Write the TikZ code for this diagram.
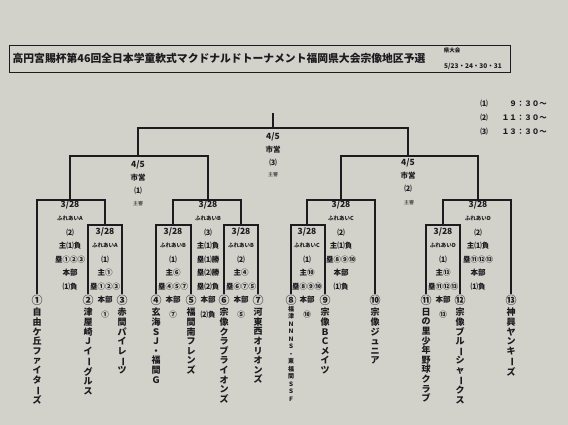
\documentclass[tikz,border=0pt]{standalone}
\usepackage{fontspec}
\setmainfont{Noto Sans CJK JP}
\usetikzlibrary{positioning, calc}

\definecolor{paper}{RGB}{210,210,203}
\definecolor{ink}{RGB}{28,28,32}
\newcommand\chouon{\rotatebox[origin=c]{-90}{ー}}

\begin{document}
\begin{tikzpicture}[x=1pt, y=-1pt, ink,
    bk/.style={line width=1.4pt, line join=miter},
    date/.style={font=\fontsize{8.5}{9}\selectfont\bfseries, inner sep=0pt},
    venue/.style={font=\fontsize{5.5}{6}\selectfont\bfseries, inner sep=0pt},
    info/.style={font=\fontsize{7.5}{8}\selectfont\bfseries, inner sep=0pt},
    ref/.style={font=\fontsize{5}{5}\selectfont, inner sep=0pt},
    num/.style={font=\fontsize{11}{11}\selectfont\bfseries, inner sep=1pt},
    team/.style={font=\fontsize{9}{9.6}\selectfont\bfseries, align=center, anchor=north, inner sep=0pt}]
  \fill[paper] (0,0) rectangle (568,425);
  \useasboundingbox (0,0) rectangle (568,425);

  % title
  \draw[line width=0.8pt] (9,45) rectangle (510,72);
  \node[font=\fontsize{10.8}{11}\selectfont\bfseries, inner sep=0pt] (ttl) at (219,58)
    {高円宮賜杯第46回全日本学童軟式マクドナルドトーナメント福岡県大会宗像地区予選};
  \node[venue] (kt) at (452,50) {県大会};
  \node[font=\fontsize{6.5}{7}\selectfont\bfseries, inner sep=0pt] (days) at (473,66) {5/23・24・30・31};

  % start times
  \node[info] (k1) at (484,104) {⑴};
  \node[info] (k2) at (484,118) {⑵};
  \node[info] (k3) at (484,132) {⑶};
  \node[info, anchor=east] (h1) at (547,104) {９：３０～};
  \node[info, anchor=east] (h2) at (547,118) {１１：３０～};
  \node[info, anchor=east] (h3) at (547,132) {１３：３０～};

  % bracket points
  \coordinate (top) at (273,113);
  \coordinate (fin) at (273,128);
  \coordinate (s1) at (138,156);
  \coordinate (s2) at (408,156);
  \coordinate (jA) at (70,200);
  \coordinate (qA) at (105,225);
  \coordinate (jB) at (208,200);
  \coordinate (qB1) at (173,225);
  \coordinate (qB2) at (241,225);
  \coordinate (jC) at (341,200);
  \coordinate (qC) at (307,225);
  \coordinate (jD) at (478,200);
  \coordinate (qD) at (443,225);

  % team numbers
  \node[num] (t1) at (37,300) {①};
  \node[num] (t2) at (88,300) {②};
  \node[num] (t3) at (122,300) {③};
  \node[num] (t4) at (156,300) {④};
  \node[num] (t5) at (191,300) {⑤};
  \node[num] (t6) at (224,300) {⑥};
  \node[num] (t7) at (258,300) {⑦};
  \node[num] (t8) at (291,300) {⑧};
  \node[num] (t9) at (325,300) {⑨};
  \node[num] (t10) at (375,300) {⑩};
  \node[num] (t11) at (426,300) {⑪};
  \node[num] (t12) at (460,300) {⑫};
  \node[num] (t13) at (511,300) {⑬};

  \draw[bk] (t2) |- (qA) -| (t3);
  \draw[bk] (t1) |- (jA) -| (qA);
  \draw[bk] (t4) |- (qB1) -| (t5);
  \draw[bk] (t6) |- (qB2) -| (t7);
  \draw[bk] (qB1) |- (jB) -| (qB2);
  \draw[bk] (t8) |- (qC) -| (t9);
  \draw[bk] (qC) |- (jC) -| (t10);
  \draw[bk] (t11) |- (qD) -| (t12);
  \draw[bk] (qD) |- (jD) -| (t13);
  \draw[bk] (jA) |- (s1) -| (jB);
  \draw[bk] (jC) |- (s2) -| (jD);
  \draw[bk] (s1) |- (fin) -| (s2);
  \draw[bk] (fin) -- (top);

  % final and semi finals
  \node[date] (fd) at (273,137) {4/5};
  \node[info] (fv) at (273,150) {市営};
  \node[info] (fm) at (273,163) {⑶};
  \node[ref] (fr) at (273,175) {主審};
  \node[date] (ad) at (138,165) {4/5};
  \node[info] (av) at (138,178) {市営};
  \node[info] (am) at (138,191) {⑴};
  \node[ref] (ar) at (138,204) {主審};
  \node[date] (bd) at (408,163) {4/5};
  \node[info] (bv) at (408,176) {市営};
  \node[info] (bm) at (408,189) {⑵};
  \node[ref] (br) at (409,203) {主審};

  % block A
  \node[date] (A0) at (70,205) {3/28};
  \node[venue] (A1) at (70,218.6) {ふれあいA};
  \node[info] (A2) at (70,232.2) {⑵};
  \node[info] (A3) at (70,245.8) {主⑴負};
  \node[info] (A4) at (70,259.4) {塁①②③};
  \node[info] (A5) at (70,273) {本部};
  \node[info] (A6) at (70,286.6) {⑴負};
  \node[date] (a0) at (105,232.2) {3/28};
  \node[venue] (a1) at (105,245.8) {ふれあいA};
  \node[info] (a2) at (105,259.4) {⑴};
  \node[info] (a3) at (105,273) {主①};
  \node[info] (a4) at (105,286.6) {塁①②③};
  \node[info] (a5) at (105,300) {本部};
  \node[info] (a6) at (105,315) {①};

  % block B
  \node[date] (B0) at (208,205) {3/28};
  \node[venue] (B1) at (208,218.6) {ふれあいB};
  \node[info] (B2) at (208,232.2) {⑶};
  \node[info] (B3) at (208,245.8) {主⑴負};
  \node[info] (B4) at (208,259.4) {塁⑴勝};
  \node[info] (B5) at (208,273) {塁⑵勝};
  \node[info] (B6) at (208,286.6) {塁⑵負};
  \node[info] (B7) at (208,300) {本部};
  \node[info] (B8) at (208,315) {⑵負};
  \node[date] (b0) at (173,232.2) {3/28};
  \node[venue] (b1) at (173,245.8) {ふれあいB};
  \node[info] (b2) at (173,259.4) {⑴};
  \node[info] (b3) at (173,273) {主⑥};
  \node[info] (b4) at (173,286.6) {塁④⑤⑦};
  \node[info] (b5) at (173,300) {本部};
  \node[info] (b6) at (173,315) {⑦};
  \node[date] (c0) at (241,232.2) {3/28};
  \node[venue] (c1) at (241,245.8) {ふれあいB};
  \node[info] (c2) at (241,259.4) {⑵};
  \node[info] (c3) at (241,273) {主④};
  \node[info] (c4) at (241,286.6) {塁⑥⑦⑤};
  \node[info] (c5) at (241,300) {本部};
  \node[info] (c6) at (241,315) {⑤};

  % block C
  \node[date] (C0) at (341,205) {3/28};
  \node[venue] (C1) at (341,218.6) {ふれあいC};
  \node[info] (C2) at (341,232.2) {⑵};
  \node[info] (C3) at (341,245.8) {主⑴負};
  \node[info] (C4) at (341,259.4) {塁⑧⑨⑩};
  \node[info] (C5) at (341,273) {本部};
  \node[info] (C6) at (341,286.6) {⑴負};
  \node[date] (d0) at (307,232.2) {3/28};
  \node[venue] (d1) at (307,245.8) {ふれあいC};
  \node[info] (d2) at (307,259.4) {⑴};
  \node[info] (d3) at (307,273) {主⑩};
  \node[info] (d4) at (307,286.6) {塁⑧⑨⑩};
  \node[info] (d5) at (307,300) {本部};
  \node[info] (d6) at (307,315) {⑩};

  % block D
  \node[date] (D0) at (478,205) {3/28};
  \node[venue] (D1) at (478,218.6) {ふれあいD};
  \node[info] (D2) at (478,232.2) {⑵};
  \node[info] (D3) at (478,245.8) {主⑴負};
  \node[info] (D4) at (478,259.4) {塁⑪⑫⑬};
  \node[info] (D5) at (478,273) {本部};
  \node[info] (D6) at (478,286.6) {⑴負};
  \node[date] (e0) at (443,232.2) {3/28};
  \node[venue] (e1) at (443,245.8) {ふれあいD};
  \node[info] (e2) at (443,259.4) {⑴};
  \node[info] (e3) at (443,273) {主⑬};
  \node[info] (e4) at (443,286.6) {塁⑪⑫⑬};
  \node[info] (e5) at (443,300) {本部};
  \node[info] (e6) at (443,315) {⑬};

  % team names
  \node[team] (n1) at (37,308) {自\\由\\ケ\\丘\\フ\\ァ\\イ\\タ\\\chouon\\ズ};
  \node[team] (n2) at (88,308) {津\\屋\\崎\\Ｊ\\イ\\\chouon\\グ\\ル\\ス};
  \node[team] (n3) at (122,308) {赤\\間\\パ\\イ\\レ\\\chouon\\ツ};
  \node[team] (n4) at (156,308) {玄\\海\\Ｓ\\Ｊ\\・\\福\\間\\Ｇ};
  \node[team] (n5) at (191,308) {福\\間\\南\\フ\\レ\\ン\\ズ};
  \node[team] (n6) at (224,308) {宗\\像\\ク\\ラ\\ブ\\ラ\\イ\\オ\\ン\\ズ};
  \node[team] (n7) at (258,308) {河\\東\\西\\オ\\リ\\オ\\ン\\ズ};
  \node[team, font=\fontsize{6}{7.5}\selectfont\bfseries] (n8) at (291,306)
    {福\\津\\Ｎ\\Ｎ\\Ｎ\\Ｓ\\・\\東\\福\\間\\Ｓ\\Ｓ\\Ｆ};
  \node[team] (n9) at (325,308) {宗\\像\\Ｂ\\Ｃ\\メ\\イ\\ツ};
  \node[team] (n10) at (375,308) {宗\\像\\ジ\\ュ\\ニ\\ア};
  \node[team] (n11) at (426,308) {日\\の\\里\\少\\年\\野\\球\\ク\\ラ\\ブ};
  \node[team] (n12) at (460,308) {宗\\像\\ブ\\ル\\\chouon\\シ\\ャ\\\chouon\\ク\\ス};
  \node[team] (n13) at (511,308) {神\\興\\ヤ\\ン\\キ\\\chouon\\ズ};
\end{tikzpicture}
\end{document}
